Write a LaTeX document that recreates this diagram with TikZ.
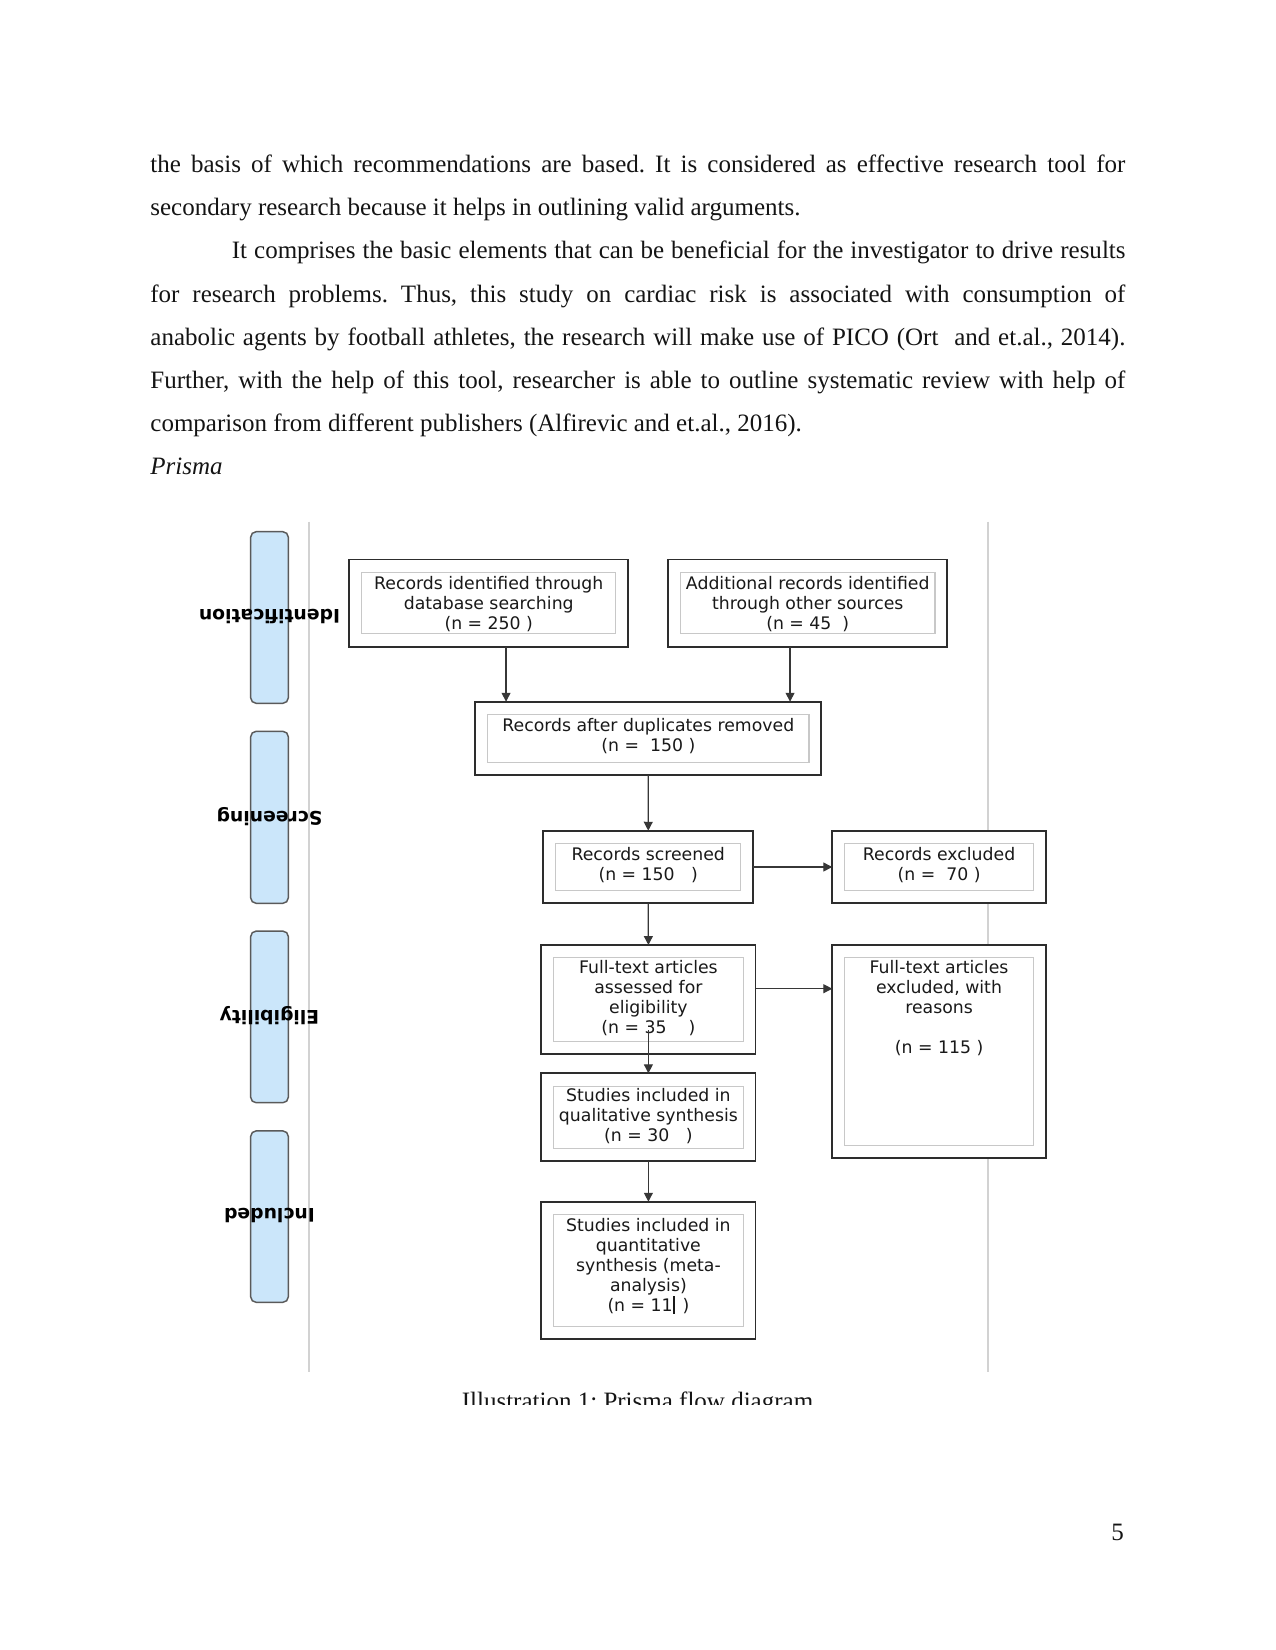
\documentclass[tikz,border=0pt]{standalone}
\usepackage{fontspec}
\setmainfont{Liberation Serif}
\newfontfamily\dejavu{DejaVu Sans}
\usetikzlibrary{arrows.meta,fit,calc}
\definecolor{pillblue}{RGB}{203,230,250}
\definecolor{pillline}{RGB}{90,90,90}
\definecolor{boxline}{RGB}{45,45,45}
\definecolor{innerline}{RGB}{200,200,200}
\definecolor{guide}{RGB}{210,210,210}
\definecolor{arrowc}{RGB}{55,55,55}
\definecolor{bodytext}{RGB}{20,20,20}
\definecolor{boxtextc}{RGB}{25,25,25}
\frenchspacing
\begin{document}
\begin{tikzpicture}[x={(0.48bp,0)}, y={(0,-0.48bp)},
  outerbox/.style={draw=boxline, fill=white, line width=0.95bp, inner sep=0, outer sep=0},
  innerbox/.style={draw=innerline, line width=0.55bp},
  boxtext/.style={font=\dejavu\fontsize{8.3bp}{9.6bp}\selectfont, text=boxtextc, align=center, inner sep=0, anchor=north},
  pill/.style={draw=pillline, fill=pillblue, line width=0.7bp, rounded corners=2.6bp, inner sep=0, outer sep=0},
  phase/.style={font=\dejavu\bfseries\fontsize{9bp}{10bp}\selectfont, text=black, inner sep=0, rotate=180},
  guideline/.style={draw=guide, line width=0.75bp},
  flowarrow/.style={draw=arrowc, line width=0.6bp, -{Triangle[length=4.3bp,width=4.3bp]}},
  body/.style={anchor=base west, inner sep=0, font=\frenchspacing\fontsize{12bp}{14bp}\selectfont, text=bodytext}
]
\useasboundingbox (0,0) rectangle (1275,1650);

% ---- body text ----
\node[body] (L1) at (150,172.7) {\makebox[468bp][s]{the basis of which recommendations are based. It is considered as effective research tool for}};
\node[body] (L2) at (150,215.8) {secondary research because it helps in outlining valid arguments.};
\node[body] (L3) at (231.5,258.9) {\makebox[428.9bp][s]{It comprises the basic elements that can be beneficial for the investigator to drive results}};
\node[body] (L4) at (150,302.0) {\makebox[468bp][s]{for research problems. Thus, this study on cardiac risk is associated with consumption of}};
\node[body] (L5) at (150,345.1) {\makebox[468bp][s]{anabolic agents by football athletes, the research will make use of PICO (Ort\ \ and et.al., 2014).}};
\node[body] (L6) at (150,388.2) {\makebox[468bp][s]{Further, with the help of this tool, researcher is able to outline systematic review with help of}};
\node[body] (L7) at (150,431.3) {comparison from different publishers (Alfirevic and et.al., 2016).};
\node[body] (L8) at (150,474.4) {\itshape Prisma};

% ---- guide lines ----
\coordinate (g1t) at (309,521.7); \coordinate (g1b) at (309,1371.7);
\coordinate (g2t) at (988,521.7); \coordinate (g2b) at (988,1371.7);
\draw[guideline] (g1t) -- (g1b);
\draw[guideline] (g2t) -- (g2b);

% ---- phase pills ----
\node[pill, fit={(250.7,531.7) (288.3,703.3)}] (p1) {};
\node[pill, fit={(250.7,731.3) (288.3,903.3)}] (p2) {};
\node[pill, fit={(250.7,931.1) (288.3,1102.7)}] (p3) {};
\node[pill, fit={(250.7,1130.9) (288.3,1302.3)}] (p4) {};
\node[phase] (ph1) at ($(p1.center)+(0,-1)$) {Identification};
\node[phase] (ph2) at ($(p2.center)+(0,-1)$) {Screening};
\node[phase] (ph3) at ($(p3.center)+(0,-1)$) {Eligibility};
\node[phase] (ph4) at ($(p4.center)+(0,-1)$) {Included};

% ---- boxes ----
\node[outerbox, fit={(349.3,559.5) (628.2,646.7)}] (b1) {};
\node[outerbox, fit={(668.2,559.5) (947.3,646.7)}] (b2) {};
\node[outerbox, fit={(475.3,701.7) (821.3,775.0)}] (dup) {};
\node[outerbox, fit={(543.4,830.7) (753.1,903.3)}] (scr) {};
\node[outerbox, fit={(832.3,830.7) (1045.8,903.3)}] (exc) {};
\node[outerbox, fit={(541.3,945.0) (755.5,1054.0)}] (ass) {};
\node[outerbox, fit={(832.3,945.0) (1045.8,1158.3)}] (ftx) {};
\node[outerbox, fit={(541.3,1073.3) (755.5,1161.0)}] (qual) {};
\node[outerbox, fit={(541.3,1201.7) (755.5,1339.3)}] (quant) {};

\foreach \b in {b1,b2,dup,scr,exc,ass,ftx,qual,quant}{
  \draw[innerbox] ($(\b.north west)+(12.5,12.8)$) rectangle ($(\b.south east)+(-12.3,-12.8)$);
}

% ---- box texts ----
\node[boxtext] (t1) at ($(b1.north)+(0,16.2)$) {Records identified through\\database searching\\(n = 250 )};
\node[boxtext] (t2) at ($(b2.north)+(0,16.2)$) {Additional records identified\\through other sources\\(n = 45\ \ )};
\node[boxtext] (t3) at ($(dup.north)+(0,16.7)$) {Records after duplicates removed\\(n =\ \ 150 )};
\node[boxtext] (t4) at ($(scr.north)+(0,16.0)$) {Records screened\\(n = 150\ \ \ )};
\node[boxtext] (t5) at ($(exc.north)+(0,16.0)$) {Records excluded\\(n =\ \ 70 )};
\node[boxtext] (t6) at ($(ass.north)+(0,15.1)$) {Full-text articles\\assessed for\\eligibility\\(n = 35\ \ \ \ )};
\node[boxtext] (t7) at ($(ftx.north)+(0,15.1)$) {Full-text articles\\excluded, with\\reasons\\[9.6bp](n = 115 )};
\node[boxtext] (t8) at ($(qual.north)+(0,15.1)$) {Studies included in\\qualitative synthesis\\(n = 30\ \ \ )};
\node[boxtext] (t9) at ($(quant.north)+(0,16.7)$) {Studies included in\\quantitative\\synthesis (meta-\\analysis)\\(n = 11\rule[-0.8bp]{1bp}{8.4bp}\hspace{0.45em})};

% ---- connectors ----
\coordinate (a1) at ($(b1.south)+(17.3,0)$);
\coordinate (a2) at ($(b2.south)+(-17.7,0)$);
\coordinate (a3) at ($(ass.east)+(0,-10.8)$);
\coordinate (a4) at ($(ass.south)+(0,-24)$);
\draw[flowarrow] (a1) -- (a1 |- dup.north);
\draw[flowarrow] (a2) -- (a2 |- dup.north);
\draw[flowarrow] (dup.south) -- (scr.north);
\draw[flowarrow] (scr.east) -- (exc.west);
\draw[flowarrow] (scr.south) -- (ass.north);
\draw[flowarrow] (a3) -- (a3 -| ftx.west);
\draw[flowarrow] (a4) -- (qual.north);
\draw[flowarrow] (qual.south) -- (quant.north);

% ---- caption (clipped) and page number ----
\begin{scope}
\clip (0,0) rectangle (1275,1404);
\node[body, anchor=base] (cap) at (637.5,1409) {Illustration 1: Prisma flow diagram};
\end{scope}
\node[body, anchor=base east] (pg) at (1124.3,1540) {5};
\end{tikzpicture}
\end{document}
